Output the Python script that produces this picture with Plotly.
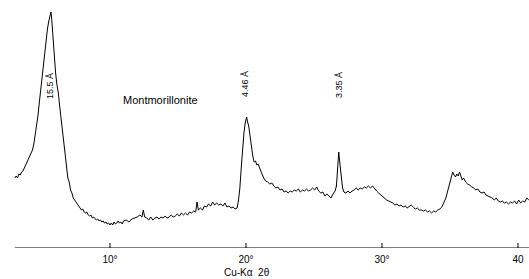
import plotly.graph_objects as go

two_theta = [3.0,3.1,3.2,3.3,3.4,3.5,3.6,3.7,3.8,3.9,4.0,4.1,4.2,4.3,4.4,4.5,4.6,4.7,4.8,4.9,5.0,5.1,5.2,5.3,5.4,5.5,5.6,5.66,5.72,5.8,5.9,6.0,6.1,6.2,6.3,6.4,6.5,6.6,6.7,6.8,6.9,7.0,7.1,7.2,7.3,7.4,7.5,7.6,7.7,7.8,7.9,8.0,8.1,8.2,8.3,8.4,8.5,8.6,8.7,8.8,8.9,9.0,9.1,9.2,9.3,9.4,9.5,9.6,9.7,9.8,9.9,10.0,10.1,10.2,10.3,10.4,10.5,10.6,10.7,10.8,10.9,11.0,11.2,11.4,11.6,11.8,12.0,12.2,12.35,12.45,12.55,12.7,12.85,13.0,13.15,13.3,13.45,13.6,13.75,13.9,14.05,14.2,14.35,14.5,14.65,14.8,14.95,15.1,15.25,15.4,15.55,15.7,15.85,16.0,16.15,16.3,16.4,16.5,16.65,16.8,16.95,17.1,17.25,17.4,17.55,17.7,17.85,18.0,18.15,18.3,18.45,18.6,18.75,18.9,19.05,19.2,19.35,19.45,19.55,19.65,19.75,19.85,19.95,20.05,20.12,20.2,20.3,20.4,20.5,20.6,20.7,20.8,20.9,21.0,21.1,21.2,21.3,21.45,21.6,21.75,21.9,22.05,22.2,22.35,22.5,22.65,22.8,22.95,23.1,23.25,23.4,23.55,23.7,23.85,24.0,24.15,24.3,24.45,24.6,24.75,24.9,25.05,25.2,25.35,25.5,25.65,25.8,25.95,26.1,26.25,26.4,26.55,26.65,26.75,26.82,26.9,27.0,27.1,27.2,27.35,27.5,27.65,27.8,27.95,28.1,28.25,28.4,28.55,28.7,28.85,29.0,29.15,29.3,29.45,29.6,29.75,29.9,30.05,30.2,30.35,30.5,30.65,30.8,30.95,31.1,31.25,31.4,31.55,31.7,31.85,32.0,32.15,32.3,32.45,32.6,32.75,32.9,33.05,33.2,33.35,33.5,33.65,33.8,33.95,34.1,34.25,34.4,34.55,34.7,34.85,35.0,35.1,35.2,35.3,35.4,35.5,35.6,35.7,35.8,35.9,36.0,36.15,36.3,36.45,36.6,36.75,36.9,37.05,37.2,37.35,37.5,37.65,37.8,37.95,38.1,38.25,38.4,38.55,38.7,38.85,39.0,39.15,39.3,39.45,39.6,39.75,39.9,40.05,40.2,40.35,40.5,40.65,40.8]

intensity = [70,72,70,74,73,76,77,80,83,86,88,91,94,98,104,112,120,132,145,158,171,185,198,210,219,227,232,236,228,210,190,175,163,155,142,130,118,102,88,78,70,66,58,55,50,48,46,44,42,41,38,39,36,35,36,33,32,33,30,31,29,28,29,27,28,26,27,25,26,24,25,23,25,23,26,24,25,27,25,26,24,27,28,26,29,30,31,33,31,38,31,30,28,31,28,30,31,29,31,30,32,30,31,33,31,32,34,32,35,33,35,33,36,35,37,36,46,38,40,38,42,41,44,42,46,43,45,43,44,42,45,41,42,40,41,39,40,48,60,80,100,115,126,131,126,122,112,100,92,86,87,83,84,80,76,72,70,67,66,64,65,62,60,61,58,59,56,57,55,57,56,58,57,59,56,58,57,59,57,58,60,58,61,57,55,56,52,54,52,50,54,57,62,80,96,85,70,60,56,55,57,55,57,58,60,58,60,59,61,60,62,60,62,59,57,55,53,51,50,48,47,46,45,43,44,42,43,41,42,40,42,43,41,39,40,38,38,37,38,36,37,35,37,36,38,39,41,45,50,58,65,70,76,73,71,74,72,76,72,68,70,66,64,63,61,60,58,59,56,55,56,53,52,51,50,48,50,47,46,47,45,46,44,46,45,47,44,48,45,47,46,50,48]

tick_vals = [10, 20, 30, 40]
tick_text = ["10°", "20°", "30°", "40"]

peak_labels = ["15.5 Å", "4.46 Å", "3.35 Å"]
peak_pos = [5.59, 19.93, 26.84]
peak_lab_y = [162, 164, 163]

FONT = "Liberation Sans"

fig = go.Figure()
fig.add_trace(go.Scatter(x=two_theta, y=intensity, mode="lines",
                         line=dict(color="black", width=1), showlegend=False,
                         hoverinfo="skip"))

# baseline axis line
fig.add_shape(type="line", xref="x", yref="y", x0=3.0, x1=40.81, y0=0, y1=0,
              line=dict(color="black", width=1))
for tv in tick_vals:
    fig.add_shape(type="line", xref="x", yref="y", x0=tv, x1=tv, y0=0, y1=5,
                  line=dict(color="black", width=1))

for lab, px, py in zip(peak_labels, peak_pos, peak_lab_y):
    fig.add_annotation(x=px, y=py, text=lab, textangle=-90, showarrow=False,
                       font=dict(family=FONT, size=9, color="black"))

fig.add_annotation(x=13.71, y=148, text="Montmorillonite", showarrow=False,
                   font=dict(family=FONT, size=11, color="black"))

fig.add_annotation(x=20.1, xref="x", y=-0.1, yref="paper", yanchor="middle",
                   text="Cu-Kα  2θ", showarrow=False,
                   font=dict(family=FONT, size=10, color="black"))

fig.update_layout(
    width=529, height=279,
    margin=dict(l=0, r=0, t=0, b=31, autoexpand=False),
    paper_bgcolor="white", plot_bgcolor="white",
    xaxis=dict(range=[1.912, 40.81], showgrid=False, zeroline=False,
               showline=False, ticks="", tickvals=tick_vals, ticktext=tick_text,
               automargin=False, ticklabelstandoff=4,
               tickfont=dict(family=FONT, size=10, color="black")),
    yaxis=dict(range=[0, 248], visible=False, showgrid=False, zeroline=False),
)

fig.write_html("out.html", config={"displayModeBar": False},
               post_script="document.body.style.margin='0';document.body.style.overflow='hidden';")
